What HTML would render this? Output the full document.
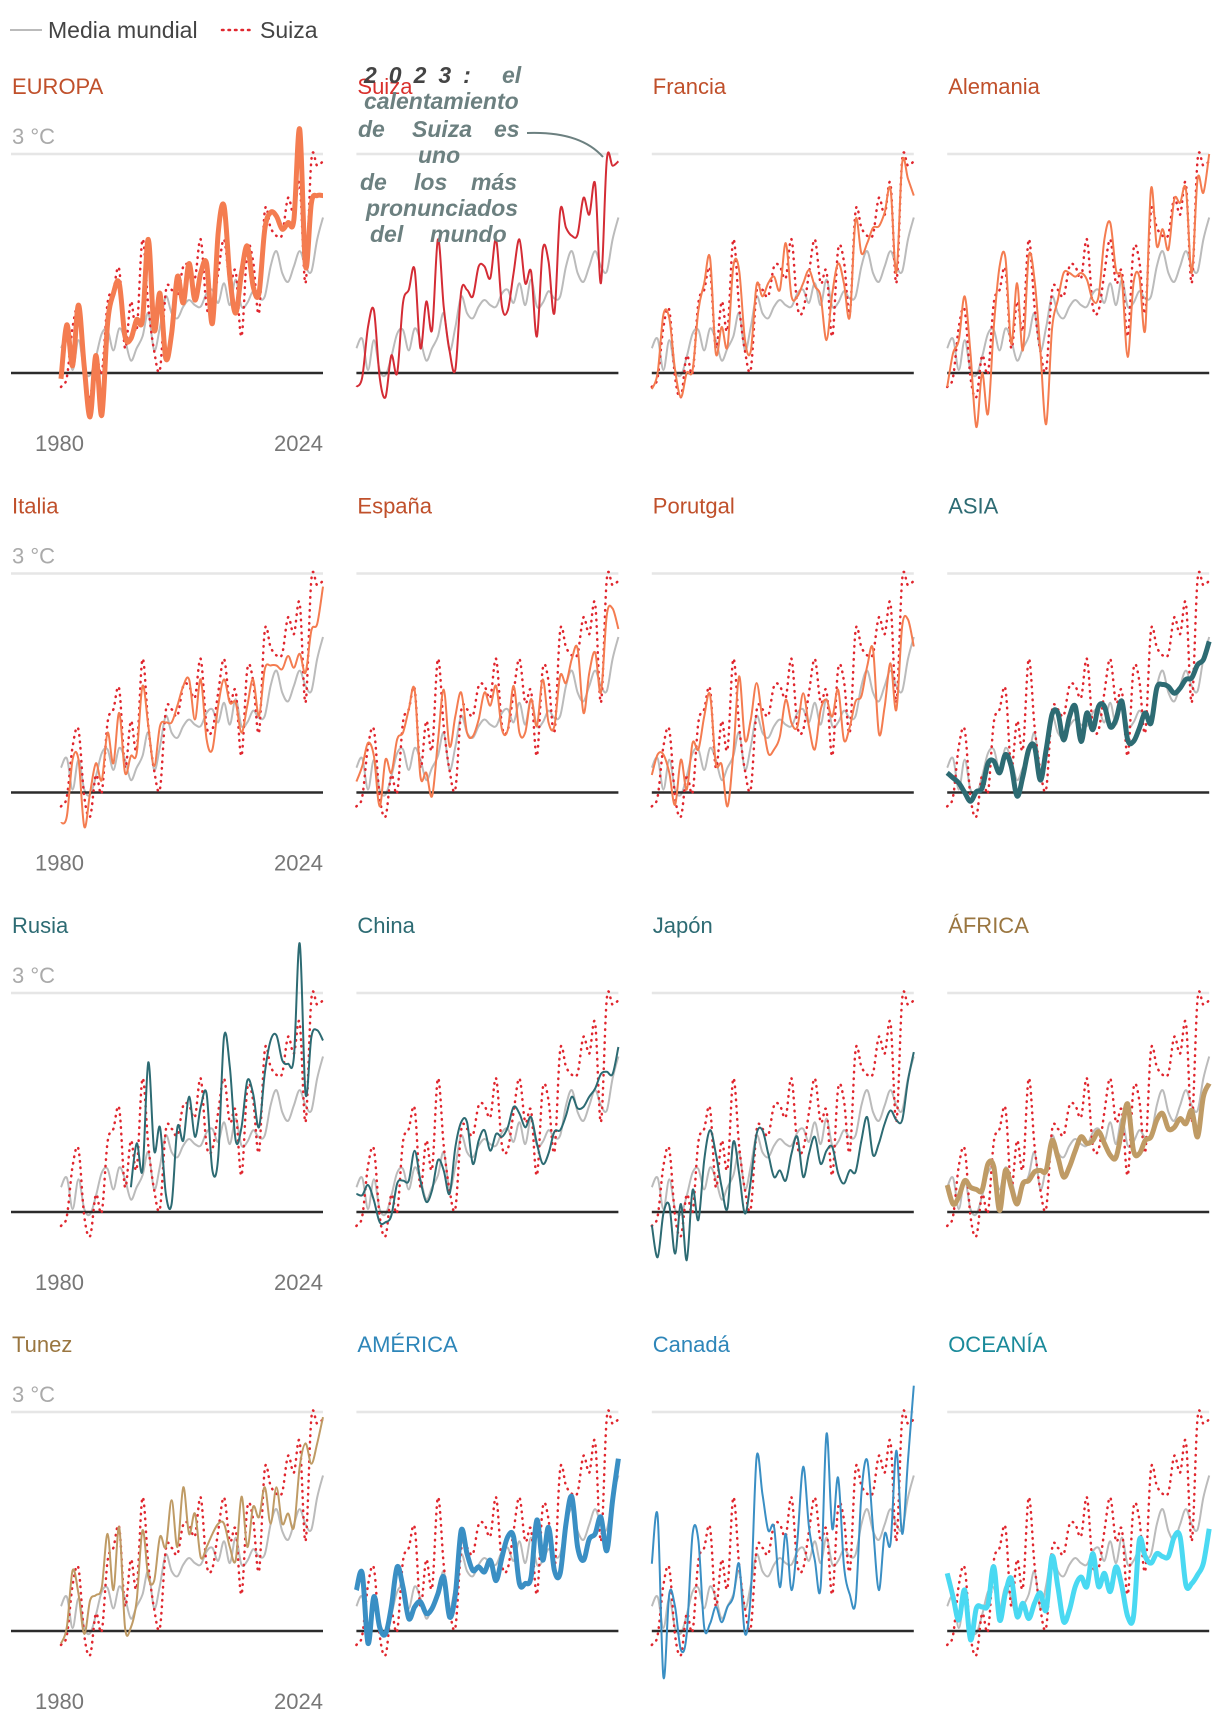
<!DOCTYPE html>
<html><head><meta charset="utf-8"><style>
html,body{margin:0;padding:0;background:#fff;}
svg{display:block;font-family:"Liberation Sans",sans-serif;}
</style></head><body>
<svg id="chart" width="1220" height="1728" viewBox="0 0 1220 1728" xmlns="http://www.w3.org/2000/svg">
<g>
<line x1="10" y1="30" x2="42" y2="30" stroke="#bbb" stroke-width="2"/>
<text x="48" y="38" font-size="23" fill="#444">Media mundial</text>
<line x1="222" y1="30" x2="252" y2="30" stroke="#e0262e" stroke-width="2.5" stroke-dasharray="1.5 5" stroke-linecap="round"/>
<text x="260" y="38" font-size="23" fill="#444">Suiza</text>
</g>
<g id="panels"></g>
<g font-size="23" font-style="italic" font-weight="bold" fill="#6c8080">
<text x="364" y="83" fill="#444" letter-spacing="12">2023:</text><text x="502" y="83">el</text>
<text x="364" y="109">calentamiento</text>
<text x="358" y="137">de</text><text x="412" y="137">Suiza</text><text x="494" y="137">es</text>
<text x="418" y="163">uno</text>
<text x="360" y="190">de</text><text x="414" y="190">los</text><text x="471" y="190">más</text>
<text x="366" y="216">pronunciados</text>
<text x="370" y="242">del</text><text x="430" y="242">mundo</text>
<path d="M527,133 Q580,131 603,157" fill="none" stroke="#6c8080" stroke-width="2"/>
</g>
</svg>
<script>
const years = [1979,1980,1981,1982,1983,1984,1985,1986,1987,1988,1989,1990,1991,1992,1993,1994,1995,1996,1997,1998,1999,2000,2001,2002,2003,2004,2005,2006,2007,2008,2009,2010,2011,2012,2013,2014,2015,2016,2017,2018,2019,2020,2021,2022,2023,2024];
const world = [0.34,0.47,0.04,0.45,0.04,-0.03,0.22,0.54,0.59,0.31,0.61,0.45,0.17,0.34,0.5,0.82,0.31,0.63,1.05,0.82,0.75,0.91,1.0,0.93,0.91,1.09,1.14,0.96,1.23,0.93,1.28,0.91,0.96,1.12,1.02,1.05,1.46,1.67,1.37,1.25,1.46,1.67,1.46,1.39,1.83,2.13];
const suiza = [-0.19,-0.06,0.63,0.86,-0.06,-0.33,0.24,0,0.96,1.14,1.42,0.34,0.98,0.59,1.83,0.91,0.3,0.05,1.12,1.14,1.05,1.46,1.46,1.3,1.83,0.91,0.86,1.37,1.83,1.23,1.39,0.5,1.69,1.53,0.82,2.22,1.99,1.88,1.9,2.4,2.17,2.59,1.23,2.92,2.84,2.9];
const europa = [-0.08,0.66,0.1,0.93,0.08,-0.6,0.24,-0.58,0.68,1.09,1.23,0.5,0.47,0.73,0.73,1.83,0.59,1.09,0.2,0.54,1.32,0.96,1.5,1.0,1.37,1.5,0.68,1.92,2.29,1.32,0.82,1.37,1.74,1.19,1.09,1.97,2.2,2.15,1.97,2.06,2.1,3.34,1.46,2.33,2.43,2.43];
const francia = [-0.22,0,0.8,0.75,0.04,-0.33,0,0.04,0.86,1.23,1.58,0.27,0.63,0.36,1.46,1.41,0.45,0.3,1.21,1.05,1.23,1.32,1.14,1.78,1.05,1.05,1.23,1.41,1.19,1.05,0.45,1.09,1.5,1.23,0.77,2.1,1.64,1.78,1.99,2.01,2.2,2.52,1.37,2.88,2.66,2.43];
const alemania = [-0.19,0.27,0.45,1.05,0.27,-0.74,0,-0.56,0.63,1.46,1.58,0.4,1.23,0.31,1.6,1.28,0.3,-0.7,0.6,1.0,1.37,1.37,1.32,1.37,1.28,1.0,1.05,1.83,2.06,1.41,1.28,0.22,1.23,1.32,0.59,2.52,1.74,1.97,1.69,2.38,2.33,2.52,1.37,2.66,2.47,3.0];
const italia = [-0.42,-0.33,0.45,0.45,-0.47,0,0.4,0.17,0.82,0.4,1.09,0.27,0.5,0.54,1.46,0.91,0.36,0.91,0.96,0.96,1.19,1.46,1.55,1.0,1.55,0.73,0.59,1.19,1.55,1.23,1.23,0.82,1.19,1.55,1.05,1.69,1.74,1.74,1.69,1.87,1.71,1.9,1.64,2.22,2.31,2.82];
const espana = [0.15,0.36,0.68,0.5,-0.19,0.45,0.27,0.73,0.82,1.14,1.41,0.22,0.27,-0.05,0.7,1.41,0.63,1.05,1.37,0.82,0.77,1.0,1.37,1.19,1.46,0.86,0.86,1.46,0.82,0.82,1.28,0.91,1.55,0.96,0.91,1.6,1.5,1.83,1.97,1.09,1.64,1.92,1.37,2.43,2.52,2.24];
const portugal = [0.24,0.52,0.52,0.27,-0.17,0.45,0.04,0.68,0.59,1.04,1.34,0.4,0.38,-0.19,0.54,1.59,0.72,1.0,1.5,1.0,0.54,0.59,0.77,1.27,0.95,0.9,1.36,0.9,0.59,1.13,1.27,1.04,1.41,0.72,0.9,1.25,1.32,1.73,1.96,0.81,1.18,1.77,1.13,2.28,2.37,2.0];
const asia = [0.27,0.2,0.13,0,-0.12,0.01,0.06,0.4,0.43,0.27,0.52,0.36,-0.05,0.22,0.59,0.63,0.17,0.59,1.07,1.09,0.72,1.04,1.18,0.7,1.09,0.86,1.18,1.18,0.9,1.0,1.25,0.72,0.7,0.88,1.09,0.95,1.43,1.48,1.45,1.36,1.43,1.55,1.57,1.75,1.82,2.07];
const rusia = [null,null,null,null,null,null,null,null,null,null,null,null,0.34,0.94,0.57,2.05,0.84,1.16,0.25,0.11,1.16,0.98,1.58,1.03,1.44,1.62,0.57,0.75,2.4,1.99,0.98,1.16,1.8,1.62,1.16,1.9,2.35,2.42,2.08,2.03,2.12,3.68,1.62,2.4,2.49,2.35];
const china = [0.25,0.23,0.37,0.16,-0.14,-0.14,-0.05,0.39,0.43,0.43,0.84,0.43,0.14,0.3,0.71,0.57,0.25,0.89,1.23,1.23,0.66,0.98,1.12,0.84,1.07,1.03,1.16,1.44,1.35,1.16,1.3,0.94,0.66,0.8,1.1,1.12,1.32,1.58,1.42,1.44,1.58,1.69,1.89,1.92,1.89,2.26];
const japon = [-0.18,-0.62,-0.02,0.09,-0.57,0.11,-0.66,0.3,-0.11,0.71,1.12,0.8,0.34,0.05,0.96,0.53,-0.02,0.43,1.07,1.12,0.8,0.48,0.57,0.43,0.8,1.03,0.48,0.8,1.03,0.66,0.84,0.89,0.53,0.39,0.57,0.55,0.98,1.3,0.78,0.94,1.21,1.39,1.26,1.26,1.8,2.19];
const africa = [0.37,0.11,0.21,0.43,0.34,0.31,0.3,0.66,0.62,0.02,0.57,0.34,0.11,0.39,0.43,0.55,0.57,0.57,0.98,0.75,0.48,0.62,0.84,1.03,0.94,0.98,1.1,0.94,0.78,0.75,1.12,1.48,0.84,0.8,0.98,1.03,1.26,1.35,1.14,1.16,1.28,1.21,1.39,1.03,1.58,1.76];
const tunez = [-0.17,0.05,0.83,0.51,-0.04,0.42,0.49,0.6,1.33,0.56,1.42,0.05,0.05,0.42,1.38,0.74,0.69,1.29,1.15,1.79,1.15,1.97,1.33,1.61,1.01,1.15,1.33,1.47,1.47,1.15,0.97,1.84,1.15,1.7,1.56,1.97,1.47,1.97,1.47,1.61,1.42,2.25,2.57,2.29,2.57,2.93];
const america = [0.56,0.79,-0.17,0.47,0.05,-0.04,0.33,0.88,0.6,0.17,0.33,0.4,0.24,0.31,0.51,0.74,0.19,0.51,1.38,1.06,0.83,0.88,0.81,0.97,0.69,1.01,1.29,1.29,0.65,0.65,0.74,1.52,0.97,1.42,0.83,0.79,1.47,1.84,1.15,0.97,1.26,1.33,1.56,1.1,1.79,2.36];
const canada = [0.92,1.58,-0.63,0.51,0.33,-0.26,-0.04,1.33,1.24,0.05,0.1,0.33,0.12,0.33,0.47,0.92,-0.04,0.51,2.38,1.88,1.38,1.42,0.6,1.33,0.56,1.24,2.25,1.42,0.97,0.6,2.7,1.4,2.1,0.9,0.5,0.4,1.88,2.34,1.42,0.56,1.33,1.2,2.47,1.33,2.34,3.36];
const oceania = [0.79,0.47,0.15,0.56,-0.12,0.31,0.33,0.36,0.88,0.15,0.52,0.72,0.2,0.38,0.17,0.38,0.52,0.29,1.02,0.61,0.13,0.29,0.61,0.74,0.61,1.06,0.61,0.79,0.54,0.88,0.61,0.2,0.2,1.24,1.02,0.93,1.06,1.02,1.02,1.29,1.29,0.63,0.65,0.77,0.93,1.4];
const panelTitles = ["EUROPA","Suiza","Francia","Alemania","Italia","España","Porutgal","ASIA","Rusia","China","Japón","ÁFRICA","Tunez","AMÉRICA","Canadá","OCEANÍA"];
const panelSeries = [europa,suiza,francia,alemania,italia,espana,portugal,asia,rusia,china,japon,africa,tunez,america,canada,oceania];
const yearTicks = [1980,2024];

const NS = "http://www.w3.org/2000/svg";
const titleColors = ["#c0502b","#d9302c","#c0502b","#c0502b","#c0502b","#c0502b","#c0502b","#2d6b73","#2d6b73","#2d6b73","#2d6b73","#9a7640","#9a7640","#2e86b9","#2e86b9","#1a8a9a"];
const lineColors = ["#f47c50","#d42c35","#f47c50","#f47c50","#f47c50","#f47c50","#f47c50","#2d6b73","#2d6b73","#2d6b73","#2d6b73","#bf9b65","#bf9b65","#3a8fc4","#3a8fc4","#4ad9f2"];
const thick = [true,false,false,false,false,false,false,true,false,false,false,true,false,true,false,true];
const rowZero = [373,792.5,1212,1631];
const perDeg = 73;
const plotW = 262;
function colLeft(c){ return 61 + 295.4*c; }
function xScale(c, yr){ return colLeft(c) + (yr - years[0]) / (years[years.length-1]-years[0]) * plotW; }
function yScale(r, v){ return rowZero[r] - v*perDeg; }
function pathFor(r, c, vals){
  let d = ""; let seg = [];
  const segs = [];
  for (let i=0;i<vals.length;i++){
    if (vals[i]===null){ if(seg.length) segs.push(seg); seg=[]; continue; }
    seg.push([xScale(c, years[i]), yScale(r, vals[i])]);
  }
  if (seg.length) segs.push(seg);
  segs.forEach(p=>{
    d += "M"+p[0][0].toFixed(1)+","+p[0][1].toFixed(1);
    for (let i=0;i<p.length-1;i++){
      const p0=p[Math.max(0,i-1)], p1=p[i], p2=p[i+1], p3=p[Math.min(p.length-1,i+2)];
      const c1x=p1[0]+(p2[0]-p0[0])/6, c1y=p1[1]+(p2[1]-p0[1])/6;
      const c2x=p2[0]-(p3[0]-p1[0])/6, c2y=p2[1]-(p3[1]-p1[1])/6;
      d += "C"+c1x.toFixed(1)+","+c1y.toFixed(1)+" "+c2x.toFixed(1)+","+c2y.toFixed(1)+" "+p2[0].toFixed(1)+","+p2[1].toFixed(1);
    }
  });
  return d;
}
function mk(tag, attrs, parent){
  const el = document.createElementNS(NS, tag);
  for (const k in attrs) el.setAttribute(k, attrs[k]);
  parent.appendChild(el);
  return el;
}
const root = document.getElementById("panels");
panelTitles.forEach((title, i)=>{
  const r = Math.floor(i/4), c = i%4;
  const g = mk("g", {}, root);
  
  
  const gl = c===0 ? 11 : colLeft(c);
  const gr = colLeft(c) + plotW;
  const t = mk("text", {x: gl+1, y: rowZero[r]-279, "font-size": 22, fill: titleColors[i]}, g);
  
  
  t.textContent = title;
  if (c===0){
    const lab = mk("text", {x: 12, y: rowZero[r]-229, "font-size": 22, fill: "#aaa"}, g);
    
    
    lab.textContent = "3 °C";
    yearTicks.forEach((yr, k)=>{
      const tx = mk("text", {x: k===0 ? 35 : gr, y: rowZero[r]+78, "font-size": 22, fill: "#777", "text-anchor": k===0 ? "start" : "end"}, g);
      
      
      tx.textContent = yr;
    });
  }
  const grid = mk("line", {x1: gl, x2: gr, y1: yScale(r,3), y2: yScale(r,3), stroke: "#e6e6e6", "stroke-width": 2.5}, g);
  
  
  const wl = mk("path", {d: pathFor(r,c,world), fill: "none", stroke: "#bbb", "stroke-width": 2}, g);
  
  
  const zl = mk("line", {x1: gl, x2: gr, y1: yScale(r,0), y2: yScale(r,0), stroke: "#2b2b2b", "stroke-width": 2.5}, g);
  
  
  if (i !== 1){
    const sl = mk("path", {d: pathFor(r,c,suiza), fill: "none", stroke: "#e0262e", "stroke-width": 2.5, "stroke-dasharray": "0.5 6", "stroke-linecap": "round"}, g);
    
    
  }
  const cl = mk("path", {d: pathFor(r,c,panelSeries[i]), fill: "none", stroke: lineColors[i], "stroke-width": thick[i] ? 5 : 2, "stroke-linejoin": "round"}, g);
  
  
});
</script>
</body></html>
